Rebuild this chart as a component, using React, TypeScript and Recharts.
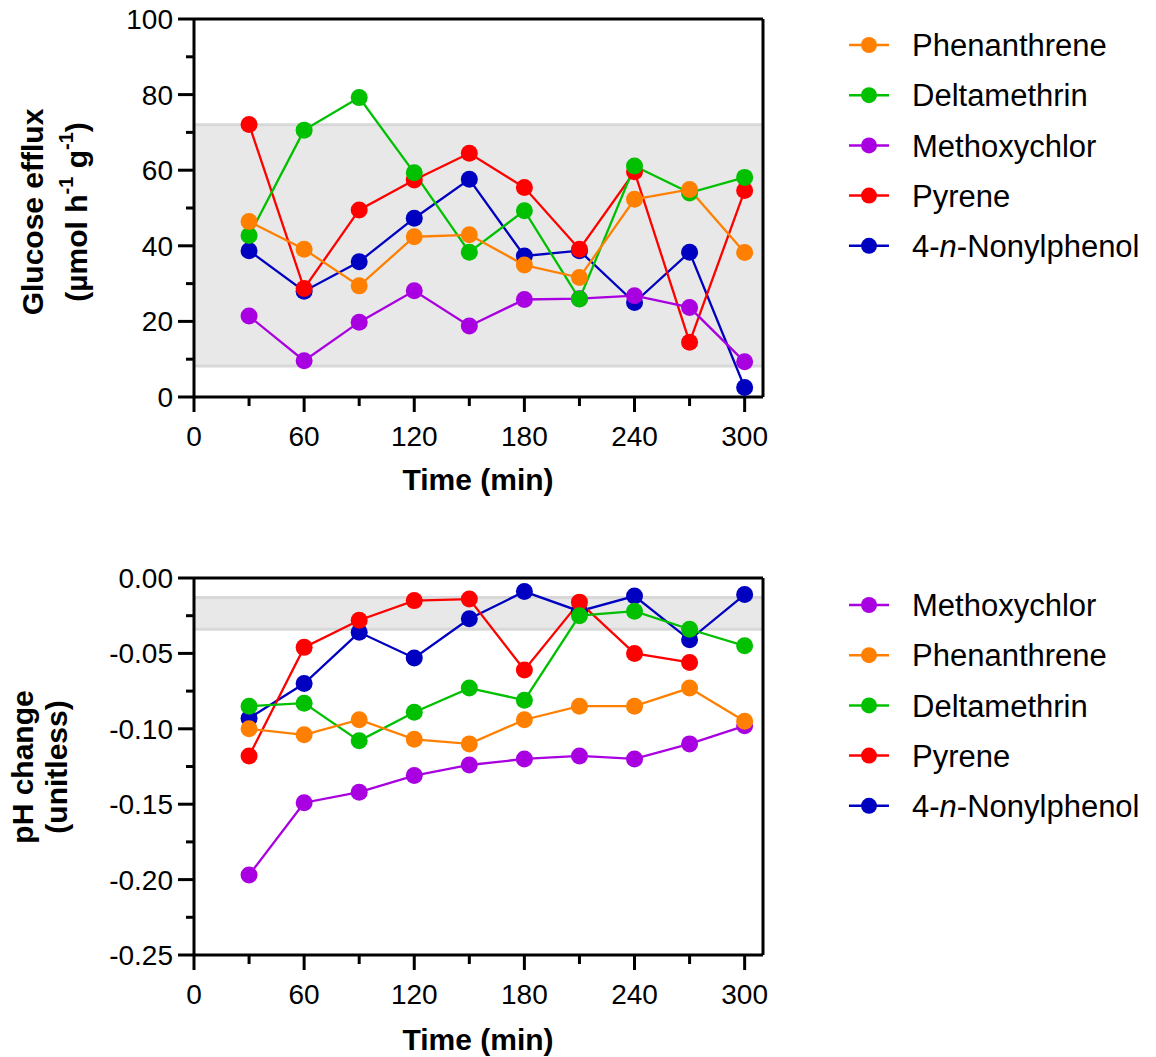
import React from "react";
import {
  LineChart,
  Line,
  XAxis,
  YAxis,
  ReferenceArea,
  ReferenceLine,
  Legend,
} from "recharts";

const FONT = '"Liberation Sans", Arial, Helvetica, sans-serif';

// sampling times (min)
const times = [30, 60, 90, 120, 150, 180, 210, 240, 270, 300];
const xTicks = [0, 30, 60, 90, 120, 150, 180, 210, 240, 270, 300];
const effluxTicks = [0, 10, 20, 30, 40, 50, 60, 70, 80, 90, 100];
const phTicks = [-0.25, -0.225, -0.2, -0.175, -0.15, -0.125, -0.1, -0.075, -0.05, -0.025, 0];

// glucose efflux (µmol h-1 g-1)
const effluxPhenanthrene = [46.4, 39.1, 29.4, 42.4, 42.9, 34.9, 31.6, 52.3, 54.9, 38.2];
const effluxDeltamethrin = [42.7, 70.6, 79.2, 59.3, 38.3, 49.3, 25.9, 61.1, 54.0, 58.1];
const effluxMethoxychlor = [21.4, 9.6, 19.8, 28.1, 18.8, 25.8, 26.0, 26.8, 23.7, 9.3];
const effluxPyrene = [72.1, 28.7, 49.5, 57.4, 64.5, 55.4, 39.1, 59.6, 14.5, 54.6];
const effluxNonylphenol = [38.7, 28.0, 35.8, 47.3, 57.6, 37.3, 38.7, 25.0, 38.3, 2.5];
const effluxBand = [8.2, 72];

// pH change (unitless)
const phMethoxychlor = [-0.197, -0.149, -0.142, -0.131, -0.124, -0.12, -0.118, -0.12, -0.11, -0.098];
const phPhenanthrene = [-0.1, -0.104, -0.094, -0.107, -0.11, -0.094, -0.085, -0.085, -0.073, -0.095];
const phDeltamethrin = [-0.085, -0.083, -0.108, -0.089, -0.073, -0.081, -0.025, -0.022, -0.034, -0.045];
const phPyrene = [-0.118, -0.046, -0.028, -0.015, -0.014, -0.061, -0.016, -0.05, -0.056, null];
const phNonylphenol = [-0.093, -0.07, -0.036, -0.053, -0.027, -0.009, -0.022, -0.012, -0.041, -0.011];
const phBand = [-0.034, -0.013];

const COLORS: Record<string, string> = {
  phen: "#ff8000",
  delta: "#00c000",
  methoxy: "#a800e0",
  pyrene: "#ff0000",
  nonyl: "#0000c0",
};

const NAMES: Record<string, React.ReactNode> = {
  phen: "Phenanthrene",
  delta: "Deltamethrin",
  methoxy: "Methoxychlor",
  pyrene: "Pyrene",
  nonyl: (
    <>
      4-<tspan fontStyle="italic">n</tspan>-Nonylphenol
    </>
  ),
};

// drawing order (last on top)
const drawOrder = ["nonyl", "pyrene", "methoxy", "delta", "phen"];
const topLegend = ["phen", "delta", "methoxy", "pyrene", "nonyl"];
const bottomLegend = ["methoxy", "phen", "delta", "pyrene", "nonyl"];

const effluxRows = times.map((t, i) => ({
  t,
  phen: effluxPhenanthrene[i],
  delta: effluxDeltamethrin[i],
  methoxy: effluxMethoxychlor[i],
  pyrene: effluxPyrene[i],
  nonyl: effluxNonylphenol[i],
}));

const phRows = times.map((t, i) => ({
  t,
  phen: phPhenanthrene[i],
  delta: phDeltamethrin[i],
  methoxy: phMethoxychlor[i],
  pyrene: phPyrene[i],
  nonyl: phNonylphenol[i],
}));

function XTick(props: any) {
  const { x, y, payload } = props;
  const major = payload.value % 60 === 0;
  return (
    <g>
      <line x1={x} x2={x} y1={y} y2={y + (major ? 15 : 9)} stroke="#000" strokeWidth={3} />
      {major && (
        <text x={x} y={y + 49} textAnchor="middle" fontSize={28} fontFamily={FONT} fill="#000">
          {payload.value}
        </text>
      )}
    </g>
  );
}

function YTick(props: any) {
  const { x, y, payload, isMajor, format } = props;
  const major = isMajor(payload.value);
  return (
    <g>
      <line x1={x - (major ? 16 : 8)} x2={x} y1={y} y2={y} stroke="#000" strokeWidth={3} />
      {major && (
        <text x={x - 21} y={y} dy="0.36em" textAnchor="end" fontSize={28} fontFamily={FONT} fill="#000">
          {format(payload.value)}
        </text>
      )}
    </g>
  );
}

function XTitle({ baseline }: any) {
  return (
    <text x={478} y={baseline} textAnchor="middle" fontSize={30} fontWeight="bold" fontFamily={FONT} fill="#000">
      Time (min)
    </text>
  );
}

function EffluxTitle() {
  return (
    <g fontFamily={FONT} fontWeight="bold" fontSize={30} fill="#000">
      <text transform="translate(43,212) rotate(-90)" textAnchor="middle">
        Glucose efflux
      </text>
      <text transform="translate(87,212) rotate(-90)" textAnchor="middle">
        (µmol h<tspan fontSize={20} dy={-14}>-1</tspan>
        <tspan dy={14}> g</tspan>
        <tspan fontSize={20} dy={-14}>-1</tspan>
        <tspan dy={14}>)</tspan>
      </text>
    </g>
  );
}

function PhTitle() {
  return (
    <g fontFamily={FONT} fontWeight="bold" fontSize={30} fill="#000">
      <text transform="translate(33,247) rotate(-90)" textAnchor="middle">
        pH change
      </text>
      <text transform="translate(67,247) rotate(-90)" textAnchor="middle">
        (unitless)
      </text>
    </g>
  );
}

function LegendBox({ items }: { items: string[] }) {
  return (
    <svg width={316} height={255} style={{ display: "block" }}>
      {items.map((k, i) => {
        const cy = 25 + i * 50.2;
        return (
          <g key={k}>
            <line x1={9} x2={49} y1={cy} y2={cy} stroke={COLORS[k]} strokeWidth={2.5} />
            <circle cx={29} cy={cy} r={8} fill={COLORS[k]} />
            <text x={72} y={cy} dy="0.36em" fontSize={31} fontFamily={FONT} fill="#000">
              {NAMES[k]}
            </text>
          </g>
        );
      })}
    </svg>
  );
}

function seriesLines() {
  return drawOrder.map((k) => (
    <Line
      key={k}
      dataKey={k}
      stroke={COLORS[k]}
      strokeWidth={2.3}
      dot={{ r: 8.5, fill: COLORS[k], stroke: COLORS[k], strokeWidth: 0 }}
      activeDot={false}
      isAnimationActive={false}
    />
  ));
}

const axisLine = { stroke: "#000", strokeWidth: 3 };

export default function App() {
  return (
    <div style={{ position: "absolute", left: 0, top: 0, width: 1156, height: 1057, background: "#fff" }}>
      <div style={{ position: "absolute", left: 0, top: 0 }}>
        <LineChart width={1156} height={520} data={effluxRows} margin={{ top: 19, right: 393, bottom: 0, left: 0 }}>
          <XAxis
            dataKey="t"
            type="number"
            domain={[0, 310]}
            ticks={xTicks}
            interval={0}
            height={123}
            tickSize={0}
            tickMargin={0}
            tickLine={false}
            axisLine={axisLine}
            tick={<XTick />}
            label={<XTitle baseline={490} />}
          />
          <YAxis
            type="number"
            domain={[0, 100]}
            ticks={effluxTicks}
            interval={0}
            width={194}
            tickSize={0}
            tickMargin={0}
            tickLine={false}
            axisLine={axisLine}
            tick={<YTick isMajor={(v: number) => v % 20 === 0} format={(v: number) => String(v)} />}
            label={<EffluxTitle />}
          />
          <ReferenceArea y1={effluxBand[0]} y2={effluxBand[1]} fill="#e8e8e8" fillOpacity={1} stroke="none" />
          <ReferenceLine y={effluxBand[0]} stroke="#d8d8d8" strokeWidth={3} />
          <ReferenceLine y={effluxBand[1]} stroke="#d8d8d8" strokeWidth={3} />
          {seriesLines()}
          <ReferenceLine y={100} stroke="#000" strokeWidth={3} />
          <ReferenceLine x={310} stroke="#000" strokeWidth={3} />
          <Legend
            layout="vertical"
            align="center"
            verticalAlign="middle"
            wrapperStyle={{ left: 840, top: 20, width: 316, height: 255 }}
            content={() => <LegendBox items={topLegend} />}
          />
        </LineChart>
      </div>
      <div style={{ position: "absolute", left: 0, top: 520 }}>
        <LineChart width={1156} height={537} data={phRows} margin={{ top: 58, right: 393, bottom: 0, left: 0 }}>
          <XAxis
            dataKey="t"
            type="number"
            domain={[0, 310]}
            ticks={xTicks}
            interval={0}
            height={102}
            tickSize={0}
            tickMargin={0}
            tickLine={false}
            axisLine={axisLine}
            tick={<XTick />}
            label={<XTitle baseline={530} />}
          />
          <YAxis
            type="number"
            domain={[-0.25, 0]}
            ticks={phTicks}
            interval={0}
            width={194}
            tickSize={0}
            tickMargin={0}
            tickLine={false}
            axisLine={axisLine}
            tick={
              <YTick
                isMajor={(v: number) => Math.round(Math.abs(v) * 1000) % 50 === 0}
                format={(v: number) => (Math.abs(v) < 1e-9 ? "0.00" : v.toFixed(2))}
              />
            }
            label={<PhTitle />}
          />
          <ReferenceArea y1={phBand[0]} y2={phBand[1]} fill="#e8e8e8" fillOpacity={1} stroke="none" />
          <ReferenceLine y={phBand[0]} stroke="#d8d8d8" strokeWidth={3} />
          <ReferenceLine y={phBand[1]} stroke="#d8d8d8" strokeWidth={3} />
          {seriesLines()}
          <ReferenceLine y={0} stroke="#000" strokeWidth={3} />
          <ReferenceLine x={310} stroke="#000" strokeWidth={3} />
          <Legend
            layout="vertical"
            align="center"
            verticalAlign="middle"
            wrapperStyle={{ left: 840, top: 60, width: 316, height: 255 }}
            content={() => <LegendBox items={bottomLegend} />}
          />
        </LineChart>
      </div>
    </div>
  );
}
